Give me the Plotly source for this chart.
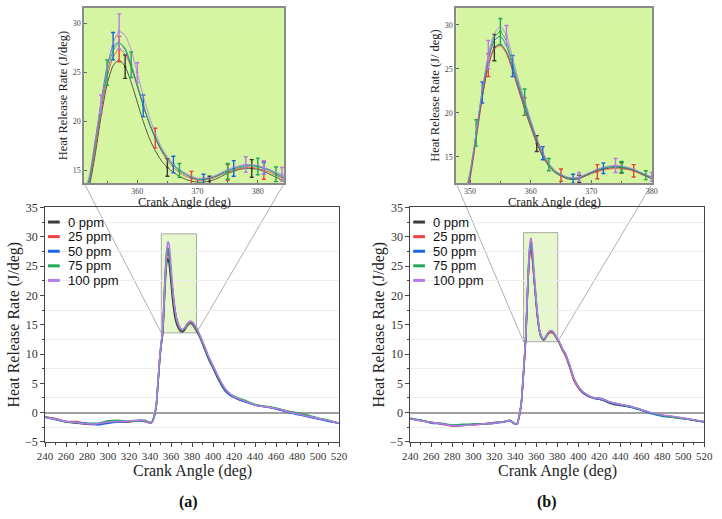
import plotly.graph_objects as go

# ---------------- data ----------------
angles = [240, 250, 260, 270, 280, 290, 300, 310, 320, 330, 335, 340, 342, 344, 346,
          347, 348, 349, 350, 351, 352, 353, 354, 355, 356, 357, 358, 359, 360,
          361, 362, 363, 364, 365, 366, 367, 368, 369, 370, 371, 372, 373, 374,
          375, 376, 377, 378, 379, 380, 381, 382, 383, 384, 385,
          388, 392, 396, 400, 404, 408, 412, 416, 420, 425, 430, 440, 450, 460,
          470, 480, 490, 500, 510, 520]

series_names = ["0 ppm", "25 ppm", "50 ppm", "75 ppm", "100 ppm"]
colors = ["#3b3b3b", "#ef4040", "#1766e0", "#20a957", "#b57ae9"]

# panel (a)
a_0ppm = [-0.8, -1.1, -1.6, -1.8, -2.0, -2.0, -1.7, -1.6, -1.5, -1.4, -1.5, -1.8, -1.6, -0.6, 1.2,
          3.5, 6.0, 8.5, 10.5,
          12.0, 13.3, 16.5, 20.5, 23.8, 25.7, 26.3, 25.6, 24.0, 22.0, 20.0, 18.3, 17.0, 16.0, 15.3,
          14.8, 14.4, 14.1, 13.9, 13.8, 13.8, 13.9, 14.1, 14.4, 14.7, 14.9, 15.1, 15.2, 15.2, 15.1,
          14.9, 14.6, 14.3, 14.0, 13.7,
          12.6, 10.8, 9.0, 7.6, 6.0, 4.7, 3.6, 3.0, 2.6, 2.2, 1.9, 1.3, 1.0, 0.7, 0.2, -0.2, -0.6, -1.0, -1.4, -1.8]
a_25ppm = [-0.7, -1.0, -1.5, -1.5, -1.9, -1.9, -1.6, -1.4, -1.6, -1.3, -1.4, -1.8, -1.6, -0.7, 1.3,
           3.7, 6.2, 8.7, 10.7,
           12.2, 13.6, 17.0, 21.0, 24.5, 26.6, 27.4, 26.9, 25.5, 23.6, 21.6, 19.8, 18.3, 17.0, 16.0,
           15.3, 14.8, 14.4, 14.2, 14.0, 14.0, 14.1, 14.3, 14.6, 14.8, 15.0, 15.2, 15.3, 15.3, 15.2,
           15.0, 14.8, 14.5, 14.2, 13.9,
           12.9, 11.2, 9.4, 8.0, 6.4, 5.0, 3.9, 3.2, 2.7, 2.3, 2.0, 1.3, 1.0, 0.7, 0.3, -0.1, -0.5, -1.0, -1.4, -1.8]
a_50ppm = [-0.8, -1.2, -1.5, -1.7, -1.8, -2.1, -1.8, -1.6, -1.5, -1.3, -1.4, -1.7, -1.5, -0.5, 1.5,
           3.9, 6.4, 8.9, 10.9,
           12.4, 14.0, 17.8, 22.0, 25.6, 27.7, 28.1, 27.3, 25.7, 23.7, 21.6, 19.8, 18.3, 17.1, 16.2,
           15.6, 15.0, 14.6, 14.3, 14.1, 14.1, 14.2, 14.4, 14.7, 15.0, 15.2, 15.4, 15.5, 15.5, 15.4,
           15.2, 15.0, 14.7, 14.4, 14.1,
           12.8, 11.0, 9.2, 7.7, 6.2, 4.8, 3.7, 3.0, 2.6, 2.2, 1.9, 1.3, 1.0, 0.6, 0.1, -0.3, -0.7, -1.1, -1.5, -1.8]
a_75ppm = [-0.7, -1.1, -1.6, -1.7, -1.8, -1.8, -1.4, -1.3, -1.5, -1.4, -1.3, -1.7, -1.5, -0.6, 1.4,
           3.8, 6.3, 8.8, 10.8,
           12.3, 13.8, 17.5, 21.5, 25.0, 27.2, 28.0, 27.5, 25.8, 23.8, 21.7, 19.9, 18.4, 17.2, 16.2,
           15.5, 15.0, 14.6, 14.3, 14.1, 14.1, 14.2, 14.4, 14.6, 14.9, 15.1, 15.3, 15.4, 15.5, 15.4,
           15.2, 15.0, 14.6, 14.3, 14.0,
           12.8, 11.1, 9.3, 7.9, 6.4, 5.0, 3.9, 3.2, 2.8, 2.4, 2.1, 1.4, 1.1, 0.8, 0.3, 0.0, -0.4, -0.9, -1.3, -1.8]
a_100ppm = [-0.8, -1.1, -1.5, -1.7, -1.9, -1.9, -1.6, -1.5, -1.4, -1.3, -1.4, -1.8, -1.6, -0.5, 1.6,
            4.0, 6.6, 9.1, 11.1,
            12.6, 14.3, 18.0, 21.8, 25.3, 28.0, 29.2, 28.8, 27.3, 25.0, 22.6, 20.5, 18.8, 17.4, 16.4,
            15.6, 15.1, 14.7, 14.4, 14.2, 14.2, 14.3, 14.5, 14.8, 15.1, 15.3, 15.5, 15.6, 15.6, 15.5,
            15.3, 15.1, 14.8, 14.6, 14.3,
            13.0, 11.3, 9.5, 8.0, 6.5, 5.1, 4.0, 3.2, 2.7, 2.3, 2.0, 1.3, 1.0, 0.7, 0.2, -0.2, -0.6, -1.0, -1.4, -1.8]

# panel (b)
b_0ppm = [-1.0, -1.3, -1.7, -1.9, -2.2, -2.2, -2.0, -1.9, -1.8, -1.5, -1.4, -2.0, -1.8, -0.4, 2.0,
          4.5, 7.0, 9.8, 12.8,
          17.2, 21.8, 25.3, 27.4, 27.8, 26.9, 24.9, 22.6, 20.4, 18.4, 16.5, 15.0, 13.9, 13.2, 12.8,
          12.5, 12.4, 12.5, 12.8, 13.1, 13.4, 13.6, 13.7, 13.8, 13.75, 13.6, 13.4, 13.1, 12.8, 12.5,
          12.2, 11.9, 11.5, 11.1, 10.7,
          9.8, 7.8, 5.6, 4.3, 3.5, 3.0, 2.6, 2.4, 2.3, 2.0, 1.6, 1.2, 1.0, 0.5, -0.1, -0.5, -0.7, -0.95, -1.25, -1.55]
b_25ppm = [-1.0, -1.4, -1.6, -2.0, -2.3, -2.1, -2.1, -1.9, -1.7, -1.5, -1.3, -2.0, -1.9, -0.5, 1.8,
           4.3, 6.8, 9.5, 12.5,
           17.0, 21.7, 25.4, 27.3, 27.6, 26.7, 24.8, 22.7, 20.7, 18.6, 16.7, 15.1, 14.0, 13.3, 12.9,
           12.6, 12.5, 12.6, 12.8, 13.1, 13.3, 13.5, 13.6, 13.65, 13.6, 13.55, 13.4, 13.1, 12.8, 12.5,
           12.2, 11.8, 11.4, 11.0, 10.6,
           9.6, 7.6, 5.4, 4.2, 3.4, 2.9, 2.6, 2.4, 2.4, 2.2, 1.8, 1.4, 1.0, 0.5, -0.1, -0.5, -0.8, -1.0, -1.3, -1.6]
b_50ppm = [-1.1, -1.3, -1.8, -1.9, -2.2, -2.1, -2.0, -1.9, -1.8, -1.6, -1.4, -2.0, -1.8, -0.3, 2.1,
           4.6, 7.2, 10.0, 13.0,
           17.6, 22.3, 26.0, 28.2, 28.7, 27.6, 25.3, 23.0, 20.9, 18.8, 16.9, 15.4, 14.2, 13.4, 12.9,
           12.6, 12.5, 12.6, 12.9, 13.2, 13.5, 13.7, 13.85, 13.9, 13.85, 13.7, 13.5, 13.2, 12.9, 12.6,
           12.3, 12.0, 11.6, 11.2, 10.8,
           9.9, 7.9, 5.7, 4.4, 3.5, 3.0, 2.6, 2.4, 2.3, 2.1, 1.7, 1.3, 0.9, 0.4, -0.2, -0.6, -0.8, -1.0, -1.3, -1.6]
b_75ppm = [-0.9, -1.3, -1.7, -1.8, -2.1, -2.0, -2.0, -1.9, -1.7, -1.5, -1.3, -1.9, -1.8, -0.4, 2.2,
           4.8, 7.4, 10.2, 13.3,
           17.7, 22.5, 26.3, 28.6, 29.2, 28.1, 25.7, 23.3, 21.2, 19.0, 17.0, 15.4, 14.1, 13.3, 12.9,
           12.6, 12.5, 12.6, 12.9, 13.2, 13.5, 13.7, 13.85, 13.9, 13.85, 13.7, 13.5, 13.2, 12.9, 12.6,
           12.3, 12.0, 11.6, 11.2, 10.8,
           10.0, 8.0, 5.8, 4.5, 3.6, 3.1, 2.7, 2.5, 2.5, 2.2, 1.8, 1.4, 1.0, 0.5, -0.1, -0.5, -0.8, -1.0, -1.3, -1.5]
b_100ppm = [-1.0, -1.4, -1.7, -1.9, -2.2, -2.2, -2.1, -1.9, -1.8, -1.5, -1.4, -2.0, -1.8, -0.3, 2.2,
            4.7, 7.3, 10.2, 13.2,
            17.8, 22.6, 26.6, 29.0, 29.8, 28.8, 26.3, 23.7, 21.4, 19.2, 17.1, 15.5, 14.2, 13.4, 13.0,
            12.7, 12.6, 12.7, 13.0, 13.3, 13.6, 13.8, 13.95, 14.0, 13.95, 13.8, 13.6, 13.3, 13.0, 12.7,
            12.4, 12.1, 11.7, 11.3, 10.9,
            10.0, 8.0, 5.8, 4.4, 3.6, 3.1, 2.7, 2.5, 2.4, 2.2, 1.8, 1.4, 1.1, 0.5, 0.0, -0.4, -0.6, -0.9, -1.2, -1.5]

# error bars (crank angle where drawn, +/- value)
a_errx_0ppm = [358, 365, 372, 379];            a_err_0ppm = [1.2, 0.9, 0.5, 0.9]
a_errx_25ppm = [357, 363, 369, 375, 381];      a_err_25ppm = [1.3, 1.0, 0.7, 0.8, 0.9]
a_errx_50ppm = [356, 361, 366, 371, 376, 381]; a_err_50ppm = [1.4, 1.1, 0.85, 0.5, 0.8, 0.6]
a_errx_75ppm = [355, 359, 367, 375, 380, 383]; a_err_75ppm = [1.3, 1.3, 0.7, 0.8, 0.85, 0.75]
a_errx_100ppm = [354, 357, 360, 378, 381, 384]; a_err_100ppm = [0.9, 1.8, 1.0, 0.8, 0.7, 0.7]

b_errx_0ppm = [354, 361, 368, 375];            b_err_0ppm = [1.5, 0.9, 0.4, 0.6]
b_errx_25ppm = [353, 359, 365, 371, 377];      b_err_25ppm = [1.3, 1.0, 0.7, 0.8, 0.7]
b_errx_50ppm = [352, 357, 362, 367, 372];      b_err_50ppm = [1.2, 1.2, 0.75, 0.5, 0.6]
b_errx_75ppm = [351, 355, 359, 363, 375, 379]; b_err_75ppm = [1.5, 1.5, 1.5, 0.7, 0.6, 0.5]
b_errx_100ppm = [353, 356, 368, 374, 380];     b_err_100ppm = [1.6, 1.1, 0.5, 0.8, 0.5]

main_xrange = [240, 520]
main_yrange = [-5, 35]
inset_a_xrange = [351.2, 384.4]; inset_a_yrange = [13.7, 31.6]
inset_b_xrange = [347.7, 380.1]; inset_b_yrange = [12.0, 31.9]
zoom_a = [350.7, 384.2, 13.6, 30.5]
zoom_b = [347.9, 380.5, 12.1, 30.7]

# ---------------- layout geometry (pixels) ----------------
W, H = 722, 519
MAIN_A_X = (38, 339)
MAIN_B_X = (412, 713)
MAIN_Y = (206, 447)
INSET_A_X = (78, 283)
INSET_B_X = (459, 660)
INSET_Y = (1, 181)


def fx(px):
    return px / W


def fy(py):
    return 1 - py / H


def data_to_paper(v, rng, dom):
    return dom[0] + (v - rng[0]) / (rng[1] - rng[0]) * (dom[1] - dom[0])


SERIF = "Liberation Serif"
SANS = "Liberation Sans"

fig = go.Figure()

panels = [
    dict(series=[a_0ppm, a_25ppm, a_50ppm, a_75ppm, a_100ppm],
         errx=[a_errx_0ppm, a_errx_25ppm, a_errx_50ppm, a_errx_75ppm, a_errx_100ppm],
         err=[a_err_0ppm, a_err_25ppm, a_err_50ppm, a_err_75ppm, a_err_100ppm],
         main=("x", "y"), inset=("x3", "y3")),
    dict(series=[b_0ppm, b_25ppm, b_50ppm, b_75ppm, b_100ppm],
         errx=[b_errx_0ppm, b_errx_25ppm, b_errx_50ppm, b_errx_75ppm, b_errx_100ppm],
         err=[b_err_0ppm, b_err_25ppm, b_err_50ppm, b_err_75ppm, b_err_100ppm],
         main=("x2", "y2"), inset=("x4", "y4")),
]

for p in panels:
    for i, name in enumerate(series_names):
        s = p["series"][i]
        fig.add_trace(go.Scatter(
            x=angles, y=s, mode="lines", name=name, showlegend=False,
            line=dict(color=colors[i], width=1.5, shape="spline", smoothing=0.4),
            xaxis=p["main"][0], yaxis=p["main"][1]))
        fig.add_trace(go.Scatter(
            x=angles, y=s, mode="lines", name=name, showlegend=False, opacity=0.85,
            line=dict(color=colors[i], width=1.0, shape="spline", smoothing=0.6),
            xaxis=p["inset"][0], yaxis=p["inset"][1]))
        idx = [angles.index(v) for v in p["errx"][i]]
        fig.add_trace(go.Scatter(
            x=[angles[k] for k in idx], y=[s[k] for k in idx], mode="markers",
            name=name, showlegend=False,
            marker=dict(size=2.5, color=colors[i]),
            error_y=dict(type="data", array=p["err"][i], color=colors[i], thickness=1.4, width=2),
            xaxis=p["inset"][0], yaxis=p["inset"][1]))

tickfont_mainx = dict(family=SERIF, size=11, color="#333")
tickfont_mainy = dict(family=SERIF, size=12, color="#333")
tickfont_inset = dict(family=SERIF, size=8, color="#444")
title_main = dict(family=SERIF, size=16, color="#222")
title_inset = dict(family=SERIF, size=12.5, color="#222")


def main_x(dom):
    return dict(domain=[fx(dom[0]), fx(dom[1])], range=main_xrange, tickmode="linear",
                tick0=240, dtick=20, ticks="outside", ticklen=4, tickwidth=1, tickcolor="#444",
                showline=True, linecolor="#444", linewidth=1, mirror=True, showgrid=False,
                zeroline=False, tickfont=tickfont_mainx, fixedrange=True,
                minor=dict(dtick=10, ticks="outside", ticklen=2.5, tickcolor="#444"))


def main_y(anchor):
    return dict(domain=[fy(MAIN_Y[1]), fy(MAIN_Y[0])], range=main_yrange, tickmode="linear",
                tick0=0, dtick=5, ticks="outside", ticklen=4, tickwidth=1, tickcolor="#444",
                showline=True, linecolor="#444", linewidth=1, mirror=True, showgrid=False,
                zeroline=True, zerolinecolor="#a0a0a0", zerolinewidth=1.5,
                tickfont=tickfont_mainy, anchor=anchor, fixedrange=True,
                title=dict(text="Heat Release Rate (J/deg)", font=title_main, standoff=1),
                minor=dict(dtick=2.5, ticks="outside", ticklen=2.5, tickcolor="#444",
                           showgrid=True, gridcolor="#ededed", gridwidth=1))


def inset_x(dom, rng, dtick):
    return dict(domain=[fx(dom[0]), fx(dom[1])], range=rng, tickmode="linear", tick0=350,
                dtick=dtick, ticks="inside", ticklen=3, tickcolor="#666",
                showline=True, linecolor="#8a8a8a", linewidth=1.5, mirror=True,
                showgrid=False, zeroline=False, tickfont=tickfont_inset, fixedrange=True,
                minor=dict(dtick=5, ticks="inside", ticklen=2, tickcolor="#666"))


def inset_y(rng, anchor, ytitle):
    return dict(domain=[fy(INSET_Y[1]), fy(INSET_Y[0])], range=rng, tickmode="linear",
                tick0=0, dtick=5, ticks="inside", ticklen=3, tickcolor="#666",
                showline=True, linecolor="#8a8a8a", linewidth=1.5, mirror=True,
                showgrid=False, zeroline=False, tickfont=tickfont_inset, anchor=anchor,
                title=dict(text=ytitle, font=title_inset, standoff=2),
                fixedrange=True)


fig.update_layout(
    width=W, height=H, margin=dict(l=0, r=0, t=0, b=0),
    paper_bgcolor="white", plot_bgcolor="rgba(0,0,0,0)", showlegend=False,
    xaxis=dict(main_x(MAIN_A_X), anchor="y"),
    yaxis=main_y("x"),
    xaxis2=dict(main_x(MAIN_B_X), anchor="y2"),
    yaxis2=main_y("x2"),
    xaxis3=dict(inset_x(INSET_A_X, inset_a_xrange, 10), anchor="y3"),
    yaxis3=inset_y(inset_a_yrange, "x3", "Heat Release Rate (J/deg)"),
    xaxis4=dict(inset_x(INSET_B_X, inset_b_xrange, 10), anchor="y4"),
    yaxis4=inset_y(inset_b_yrange, "x4", "Heat Release Rate (J/ deg)"),
)

shapes = []
annotations = []
# inset backgrounds
for xr, yr in (("x3", "y3"), ("x4", "y4")):
    shapes.append(dict(type="rect", xref=xr + " domain", yref=yr + " domain", x0=0, x1=1, y0=0, y1=1,
                       fillcolor="#d6f5a2", line=dict(width=0), layer="below"))

# zoom rectangles and connector lines
for zr, xr, yr, mdom, idom in ((zoom_a, "x", "y", MAIN_A_X, INSET_A_X),
                               (zoom_b, "x2", "y2", MAIN_B_X, INSET_B_X)):
    shapes.append(dict(type="rect", xref=xr, yref=yr, x0=zr[0], x1=zr[1], y0=zr[2], y1=zr[3],
                       fillcolor="rgba(200,238,140,0.45)", line=dict(color="#a8a8a8", width=1),
                       layer="below"))
    xdom = (fx(mdom[0]), fx(mdom[1]))
    ydom = (fy(MAIN_Y[1]), fy(MAIN_Y[0]))
    yb = data_to_paper(zr[2], main_yrange, ydom)
    for ix, zx in ((idom[0], zr[0]), (idom[1], zr[1])):
        shapes.append(dict(type="line", xref="paper", yref="paper",
                           x0=fx(ix), y0=fy(INSET_Y[1]),
                           x1=data_to_paper(zx, main_xrange, xdom), y1=yb,
                           line=dict(color="#b0b0b0", width=1), layer="below"))

# legends
for mdom in (MAIN_A_X, MAIN_B_X):
    for i, name in enumerate(series_names):
        ypx = 221 + 15 * i
        shapes.append(dict(type="line", xref="paper", yref="paper",
                           x0=fx(mdom[0] + 3), x1=fx(mdom[0] + 15), y0=fy(ypx), y1=fy(ypx),
                           line=dict(color=colors[i], width=3)))
        annotations.append(dict(x=fx(mdom[0] + 22), y=fy(ypx), xref="paper", yref="paper",
                                text=name, showarrow=False, xanchor="left", yanchor="middle",
                                borderpad=0,
                                font=dict(family=SANS, size=13, color="#111")))

# x-axis titles
for mdom in (MAIN_A_X, MAIN_B_X):
    annotations.append(dict(x=fx((mdom[0] + mdom[1]) / 2), y=fy(477), xref="paper", yref="paper",
                            text="Crank Angle (deg)", showarrow=False, xanchor="center",
                            yanchor="middle", font=title_main))
for idom in (INSET_A_X, INSET_B_X):
    annotations.append(dict(x=fx((idom[0] + idom[1]) / 2), y=fy(200), xref="paper", yref="paper",
                            text="Crank Angle (deg)", showarrow=False, xanchor="center",
                            yanchor="middle", font=title_inset))

for lbl, xpx in (("(a)", 185), ("(b)", 552)):
    annotations.append(dict(x=fx(xpx), y=fy(509), xref="paper", yref="paper",
                            text="<b>" + lbl + "</b>", showarrow=False, xanchor="center",
                            yanchor="middle", font=dict(family=SERIF, size=16, color="#111")))

fig.update_layout(shapes=shapes, annotations=annotations)
fig.write_html("out.html")
